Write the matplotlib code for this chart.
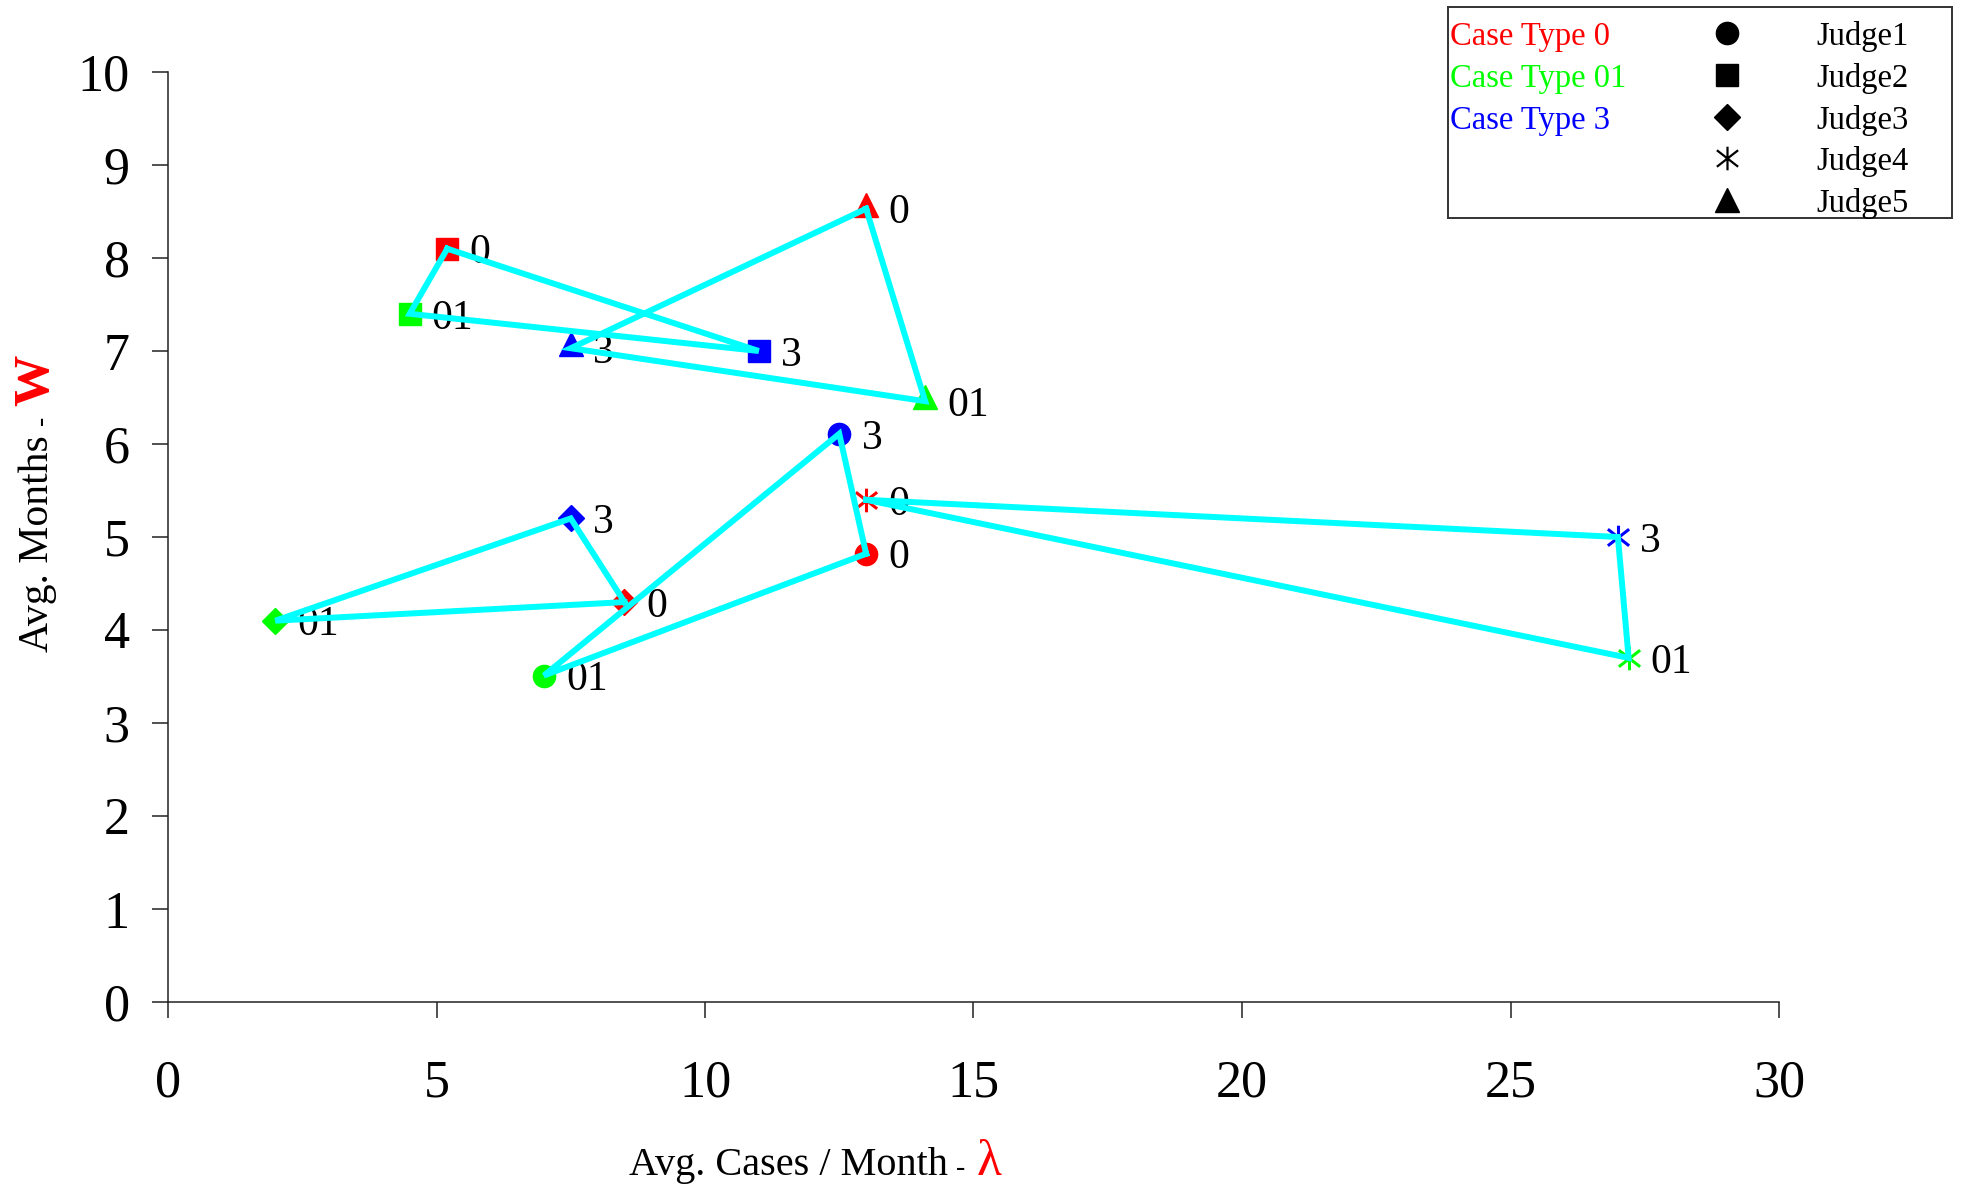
import matplotlib
matplotlib.use("Agg")
import matplotlib.pyplot as plt
from matplotlib.path import Path
from matplotlib.transforms import IdentityTransform

# ------------------------------------------------------------------ #
# Data: (lambda, W) per judge, in case-type order 0, 01, 3
# ------------------------------------------------------------------ #
case_types = ["0", "01", "3"]
case_colors = ["#ff0000", "#00ff00", "#0000ff"]
judges = ["Judge1", "Judge2", "Judge3", "Judge4", "Judge5"]

judge1_lam = [13.0, 7.0, 12.5]
judge1_w = [4.82, 3.51, 6.11]
judge2_lam = [5.2, 4.5, 11.0]
judge2_w = [8.1, 7.4, 7.0]
judge3_lam = [8.5, 2.0, 7.5]
judge3_w = [4.3, 4.1, 5.2]
judge4_lam = [13.0, 27.2, 27.0]
judge4_w = [5.4, 3.7, 5.0]
judge5_lam = [13.0, 14.1, 7.5]
judge5_w = [8.53, 6.46, 7.03]

x_ticks = [0, 5, 10, 15, 20, 25, 30]
y_ticks = list(range(11))

# asterisk marker (vertical bar + X)
star = Path(
    [(0, -1), (0, 1), (-0.9, -0.7), (0.9, 0.7), (-0.9, 0.7), (0.9, -0.7)],
    [Path.MOVETO, Path.LINETO] * 3,
)
markers = ["o", "s", "D", star, "^"]
msizes = [16, 16, 13, 17, 17]

plt.rcParams["font.family"] = ["Liberation Serif", "DejaVu Serif"]

W_PX, H_PX = 1968, 1187
fig = plt.figure(figsize=(W_PX / 100, H_PX / 100), dpi=100)


def fx(px):
    return px / W_PX


def fy(py):
    return 1 - py / H_PX


ax = fig.add_axes([fx(168), fy(1002), fx(1779) - fx(168), fy(72) - fy(1002)])

series = [
    (judge1_lam, judge1_w),
    (judge2_lam, judge2_w),
    (judge3_lam, judge3_w),
    (judge4_lam, judge4_w),
    (judge5_lam, judge5_w),
]

for (lam, w), mk, ms in zip(series, markers, msizes):
    for xi, yi, col, lbl in zip(lam, w, case_colors, case_types):
        if mk is star:
            ax.plot(xi, yi, marker=mk, ms=ms, mew=2.2, color=col,
                    linestyle="none", zorder=2)
        elif mk == "^":
            # triangle sits slightly above the line vertex, as in the source
            ax.plot(xi, yi, marker=mk, ms=ms, color=col, mec=col,
                    linestyle="none", zorder=2,
                    transform=ax.transData + matplotlib.transforms.ScaledTranslation(
                        0, 4 / 100, fig.dpi_scale_trans))
        else:
            ax.plot(xi, yi, marker=mk, ms=ms, color=col, mec=col,
                    linestyle="none", zorder=2)
        ax.annotate(lbl, (xi, yi), xytext=(16, 0), textcoords="offset points",
                    va="center_baseline", ha="left", fontsize=30, zorder=1)
    # closed cyan path through the three case types
    ax.plot(lam + lam[:1], w + w[:1], color="#00ffff", lw=4.3,
            solid_joinstyle="miter", zorder=3)

ax.set_xlim(0, 30)
ax.set_ylim(0, 10)
ax.set_xticks(x_ticks)
ax.set_yticks(y_ticks)
for s in ("top", "right"):
    ax.spines[s].set_visible(False)
for s in ("left", "bottom"):
    ax.spines[s].set_linewidth(1.1)
    ax.spines[s].set_color("#222222")
ax.tick_params(direction="out", length=11.5, width=1.1, color="#222222",
               labelsize=37.5)
ax.tick_params(axis="x", pad=30)
ax.tick_params(axis="y", pad=16)

# ------------------------------------------------------------------ #
# Axis titles built from pieces (black text, red symbol)
# ------------------------------------------------------------------ #
renderer = fig.canvas.get_renderer()
ident = IdentityTransform()

x0, base = 629, H_PX - 1175
t = fig.text(x0, base, "Avg. Cases / Month", transform=ident, fontsize=29,
             va="baseline", ha="left")
bb = t.get_window_extent(renderer)
t = fig.text(bb.x1 + 8, base, "-", transform=ident, fontsize=20,
             va="baseline", ha="left")
bb = t.get_window_extent(renderer)
fig.text(bb.x1 + 12, base, "λ", transform=ident, fontsize=37, color="#ff0000",
         va="baseline", ha="left")

ybase_x, y0 = 48, H_PX - 652
t = fig.text(ybase_x, y0, "Avg. Months", transform=ident, fontsize=30,
             rotation=90, rotation_mode="anchor", ha="left", va="baseline")
bb = t.get_window_extent(renderer)
t = fig.text(ybase_x, bb.y1 + 10, "-", transform=ident, fontsize=20,
             rotation=90, rotation_mode="anchor", ha="left", va="baseline")
bb = t.get_window_extent(renderer)
fig.text(ybase_x, bb.y1 + 10, "W", transform=ident, fontsize=37,
         fontweight="bold", color="#ff0000",
         rotation=90, rotation_mode="anchor", ha="left", va="baseline")

# ------------------------------------------------------------------ #
# Legend box (two columns: case-type colours, judge markers)
# ------------------------------------------------------------------ #
lx0, ly0, lx1, ly1 = 1448, 7, 1952, 218
lax = fig.add_axes([fx(lx0), fy(ly1), fx(lx1) - fx(lx0), fy(ly0) - fy(ly1)])
lax.set_xlim(0, lx1 - lx0)
lax.set_ylim(ly1 - ly0, 0)
lax.set_xticks([])
lax.set_yticks([])
for s in lax.spines.values():
    s.set_linestyle((0, (1, 1)))
    s.set_linewidth(1.4)
    s.set_color("#333333")

row_y = [26, 68, 110, 151, 193]
for ry, lbl, col in zip(row_y, case_types, case_colors):
    lax.text(2, ry, f"Case Type {lbl}", color=col, fontsize=23.5,
             va="center_baseline", ha="left")
for ry, name, mk, ms in zip(row_y, judges, markers, msizes):
    if mk is star:
        lax.plot(279, ry, marker=mk, ms=ms, mew=1.6, color="black",
                 linestyle="none")
    else:
        lax.plot(279, ry, marker=mk, ms=ms, color="black", linestyle="none")
    lax.text(368, ry, name, color="black", fontsize=23.5,
             va="center_baseline", ha="left")

fig.savefig("out.png", dpi=100)
